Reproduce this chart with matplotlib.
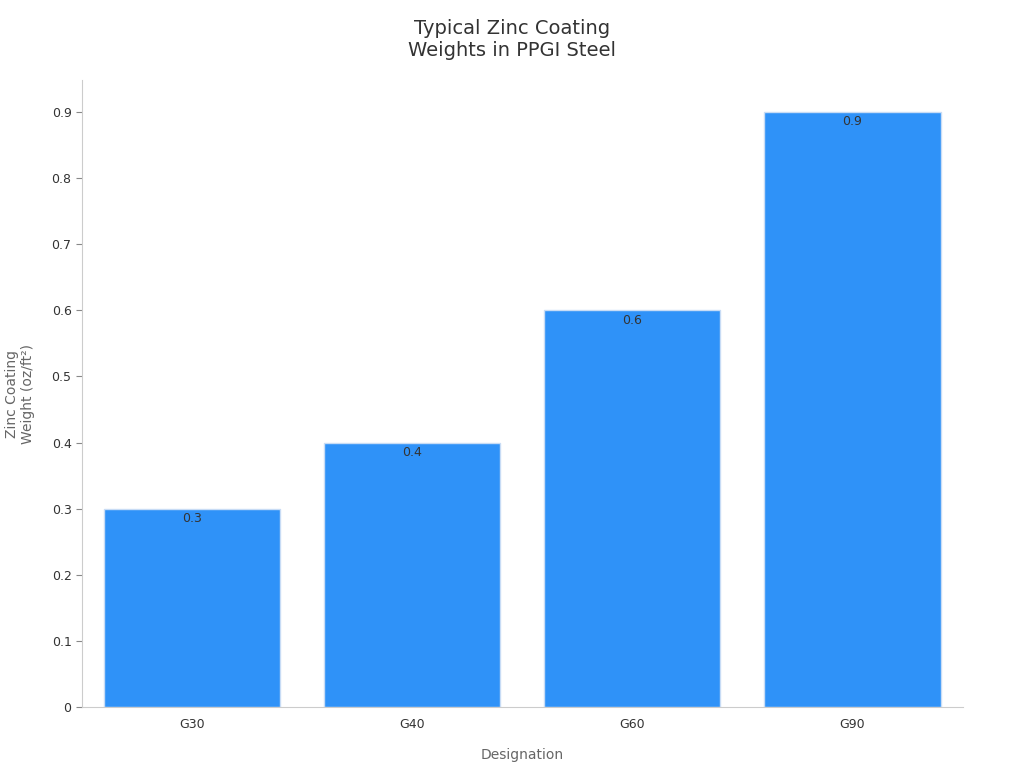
import matplotlib
matplotlib.use("Agg")
from matplotlib import pyplot as plt
from matplotlib.ticker import FuncFormatter

designations = ["G30", "G40", "G60", "G90"]
weights = [0.3, 0.4, 0.6, 0.9]

fig = plt.figure(figsize=(10.24, 7.68), dpi=100)
ax = fig.add_axes([0.080, 0.079, 0.860, 0.817])

x = range(len(designations))
ax.bar(x, weights, width=0.8, color="#2f92f8", edgecolor="#c8dcf5", linewidth=1)
for xi, w in zip(x, weights):
    ax.text(xi, w - 0.005, f"{w}", ha="center", va="top", fontsize=9, color="#333333")

ax.set_xticks(list(x))
ax.set_xticklabels(designations)
ax.set_xlim(-0.5, 3.5)
ax.set_ylim(0, 0.948)
ax.set_yticks([i / 10 for i in range(10)])
ax.yaxis.set_major_formatter(FuncFormatter(lambda v, p: "0" if v == 0 else f"{v:.1f}"))
ax.tick_params(labelsize=9, colors="#333333")
ax.tick_params(axis="x", length=0, pad=8)
ax.tick_params(axis="y", length=4, color="#888888")

for s in ["top", "right"]:
    ax.spines[s].set_visible(False)
for s in ["left", "bottom"]:
    ax.spines[s].set_color("#cccccc")

ax.set_xlabel("Designation", fontsize=10, color="#666666", labelpad=12)
ax.set_ylabel("Zinc Coating\nWeight (oz/ft²)", fontsize=10, color="#666666", labelpad=12)
fig.suptitle("Typical Zinc Coating\nWeights in PPGI Steel", fontsize=14, color="#333333", y=0.975)

fig.savefig("out.png", dpi=100)
